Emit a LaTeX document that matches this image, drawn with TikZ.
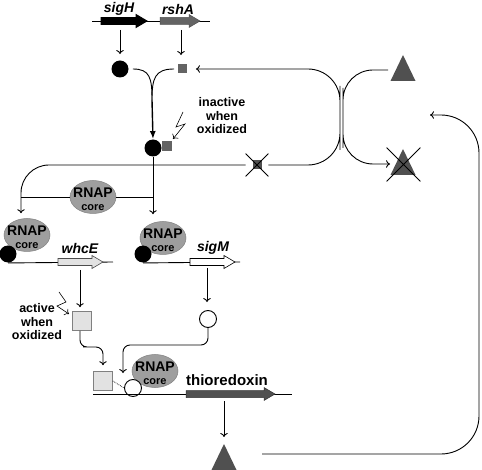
\documentclass[tikz,border=0pt]{standalone}
\usepackage{fontspec}
\setmainfont{Liberation Sans}
\usetikzlibrary{arrows.meta,shapes.misc,shapes.geometric,calc,positioning}

\definecolor{rnapgray}{RGB}{158,158,158}
\definecolor{trxgray}{RGB}{80,80,80}
\definecolor{rshgray}{RGB}{100,100,100}
\definecolor{lightbox}{RGB}{226,226,226}

% gene arrow: style, x tail, x tip, y
\newcommand{\genearr}[4]{%
  \filldraw[#1] (#2,#4-3.5) -- (#3-11,#4-3.5) -- (#3-11,#4-6.5) -- (#3,#4)
    -- (#3-11,#4+6.5) -- (#3-11,#4+3.5) -- (#2,#4+3.5) -- cycle;}
% triangle (thioredoxin): centre coordinate
\newcommand{\trxtri}[1]{%
  \fill[trxgray] (#1) +(0,-13) -- +(12.5,13) -- +(-12.5,13) -- cycle;}

\begin{document}
\begin{tikzpicture}[x=1pt,y=-1pt,line width=0.9pt,
  arr/.style={-{To[length=4pt,width=7.5pt]}},
  bigarr/.style={-{Latex[length=8pt,width=6pt]},line width=1.4pt},
  genelbl/.style={font=\bfseries\itshape\fontsize{14}{14}\selectfont,inner sep=0pt},
  lbl/.style={font=\bfseries\fontsize{12.5}{13.5}\selectfont,align=center,inner sep=0pt},
  sig/.style={circle,fill=black,minimum size=17pt,inner sep=0pt},
  wsig/.style={circle,draw,fill=white,minimum size=17pt,inner sep=0pt},
  rsq/.style={rectangle,fill=rshgray,minimum size=#1,inner sep=0pt},
  lsq/.style={rectangle,draw=gray,line width=0.6pt,fill=lightbox,minimum size=19pt,inner sep=0pt},
  rnap/.style={ellipse,fill=rnapgray,draw=gray,line width=0.5pt,minimum width=46pt,minimum height=33pt,inner sep=0pt,
    label={[rnaptxt]center:RNAP\\[-1pt]{\fontsize{11}{11}\selectfont core}}},
  rnaptxt/.style={font=\bfseries\fontsize{14}{14}\selectfont,align=center,inner sep=0pt,yshift=-2pt},
  xmark/.style={cross out,draw,line width=0.8pt,minimum size=#1,inner sep=0pt}
  ]
\useasboundingbox (0,0) rectangle (482,470);

%%% sigH / rshA operon
\draw (92,21) -- (210,21);
\genearr{fill=black}{101}{147}{21}
\genearr{fill=rshgray,draw=rshgray!80!black,line width=0.5pt}{160}{200}{21}
\node[genelbl] (sigHlbl) at (119,9) {sigH};
\node[genelbl] (rshAlbl) at (178,9) {rshA};
\coordinate (sigHg) at (120,30);
\coordinate (rshAg) at (181,30);

\node[sig] (sigH) at (120,69) {};
\node[rsq=9pt] (rshA) at (182,69) {};
\draw[arr,shorten >=6pt] (sigHg) -- (sigH.north);
\draw[arr,shorten >=9pt] (rshAg) -- (rshAg |- rshA.north);

%%% sigH-RshA complex
\node[sig] (cplxH) at (153,148) {};
\node[rsq=10pt,anchor=west,yshift=2pt] (cplxR) at (cplxH.east) {};
\coordinate (merge) at (152,100);
\draw[shorten <=4pt] (sigH.east) .. controls (150,69) and (152,78) .. (merge);
\draw[shorten <=3pt] (rshA.west) .. controls (155,69) and (152,78) .. (merge);
\draw[bigarr] (merge) -- (cplxH.north);
\node[lbl] (inact) at (222,116) {inactive\\when\\oxidized};
\draw[arr,line width=0.6pt] (183,112) -- (176,127) -- (185,124) -- (173,139);

%%% oxidized RshA
\node[rsq=9pt,fill=trxgray] (rshAox) at (257,165) {};
\node[xmark=22pt] (xA) at (rshAox) {};

%%% free RNAP core
\node[rnap] (core) at (93,197) {};

%%% SigH-RNAP holoenzymes
\node[rnap] (holoE) at (27,235) {};
\node[sig] (sigE) at (8,254) {};
\node[rnap] (holoM) at (163,238) {};
\node[sig] (sigMs) at (143,254) {};

\coordinate (brL) at (21,165);
\draw[arr,rounded corners=28pt,shorten >=5pt] (xA.west) -| ([xshift=-6pt]holoE.north);
\draw[arr,shorten >=7pt] (cplxH.south) -- (cplxH.south |- holoM.north);
\draw (core.west) -- (core.west -| brL);
\draw (core.east) -- (core.east -| cplxH);

%%% whcE and sigM genes
\coordinate (whcEend) at (113,262);
\coordinate (sigMend) at (240,262);
\draw (sigE.south) -- (whcEend);
\draw (sigMs.south) -- (sigMend);
\genearr{fill=lightbox,draw=black!70,line width=0.6pt}{58}{103}{262}
\genearr{fill=white,draw=black,line width=0.6pt}{190}{235}{262}
\node[genelbl] (whcElbl) at (80,248) {whcE};
\node[genelbl] (sigMlbl) at (213,248) {sigM};
\coordinate (whcEg) at (80,270);
\coordinate (sigMg) at (207,268);

\node[lsq] (whcEp) at (82,321) {};
\node[wsig] (sigMp) at (208,319) {};
\draw[arr,shorten >=4pt] (whcEg) -- (whcEg |- whcEp.north);
\draw[arr,shorten >=8pt] (sigMg) -- (sigMg |- sigMp.north);
\node[lbl] (act) at (37,322) {active\\when\\oxidized};
\draw[arr,line width=0.6pt] (59,292) -- (66,302) -- (57,306) -- (69,314);

%%% thioredoxin promoter
\node[lsq] (whcEb) at (103,381) {};
\node[rnap] (coreB) at (155,371) {};
\node[wsig] (sigMb) at (133,388) {};
\draw[densely dotted,line width=0.7pt] (whcEb.east) -- (sigMb.west);
\coordinate (trxend) at (292,394);
\draw (whcEb.south west |- trxend) -- (trxend);
\genearr{fill=trxgray,draw=black!80,line width=0.5pt}{186}{275}{394}
\node[font=\bfseries\fontsize{15}{15}\selectfont,inner sep=0pt] (trxlbl) at (227,380) {thioredoxin};

\draw[arr,rounded corners=7pt,shorten >=6pt] (whcEp.south -| whcEg) |- (90,347) -| (whcEb.north);
\draw[arr,rounded corners=7pt,shorten >=6pt] (sigMp.south) |- (170,345) -| ([xshift=-10pt]sigMb.north);

%%% thioredoxin
\coordinate (trxC) at (224,457);
\coordinate (trxg) at (224,401);
\trxtri{trxC}
\draw[arr,shorten >=7pt] (trxg) -- (trxC |- 0,444);

\coordinate (trxA) at (403,68);
\coordinate (trxB) at (403,162);
\trxtri{trxA}
\trxtri{trxB}
\node[xmark=33pt] (xB) at (403.5,164.5) {};

%%% redox exchange
\coordinate (bendL) at (340,118);
\coordinate (bendR) at (343,118);
\coordinate (trxAw) at (388,70);
\coordinate (trxBw) at (390,164);
\draw[arr,rounded corners=32pt,shorten >=9pt] (xA.east) -| (bendL) |- (rshA.east);
\draw[arr,rounded corners=30pt] (trxAw) -| (bendR) |- (trxBw);

%%% recycling
\coordinate (ret) at (430,115);
\coordinate (retC) at (479,300);
\coordinate (trxCe) at (262,454);
\draw[arr,rounded corners=38pt] (trxCe) -| (retC) |- (ret);
\end{tikzpicture}
\end{document}
